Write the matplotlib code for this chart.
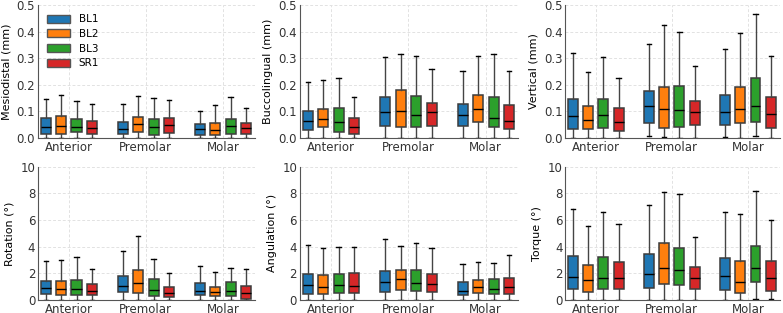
import numpy as np
import matplotlib.pyplot as plt
from matplotlib.patches import Patch

groups = ['Anterior', 'Premolar', 'Molar']
series = ['BL1', 'BL2', 'BL3', 'SR1']
colors = ['#1f77b4', '#ff7f0e', '#2ca02c', '#d62728']

# each entry: [whislo, q1, median, q3, whishi] per group, per series
mesiodistal = {
    'BL1': [[0, 0.014, 0.040, 0.077, 0.146], [0, 0.014, 0.034, 0.060, 0.128], [0, 0.013, 0.033, 0.054, 0.103]],
    'BL2': [[0, 0.016, 0.044, 0.083, 0.163], [0, 0.023, 0.054, 0.079, 0.157], [0, 0.013, 0.029, 0.058, 0.123]],
    'BL3': [[0, 0.023, 0.040, 0.070, 0.141], [0, 0.011, 0.040, 0.070, 0.151], [0, 0.016, 0.044, 0.073, 0.153]],
    'SR1': [[0, 0.016, 0.036, 0.063, 0.129], [0, 0.019, 0.048, 0.075, 0.144], [0, 0.014, 0.039, 0.058, 0.113]],
}
buccolingual = {
    'BL1': [[0, 0.031, 0.065, 0.102, 0.210], [0, 0.045, 0.098, 0.156, 0.303], [0, 0.045, 0.088, 0.129, 0.251]],
    'BL2': [[0, 0.040, 0.073, 0.111, 0.220], [0, 0.040, 0.100, 0.182, 0.314], [0, 0.059, 0.108, 0.160, 0.307]],
    'BL3': [[0, 0.024, 0.059, 0.113, 0.227], [0, 0.043, 0.087, 0.158, 0.308], [0, 0.040, 0.077, 0.153, 0.314]],
    'SR1': [[0, 0.016, 0.040, 0.074, 0.155], [0, 0.046, 0.097, 0.133, 0.258], [0, 0.035, 0.063, 0.124, 0.253]],
}
vertical = {
    'BL1': [[0, 0.035, 0.082, 0.147, 0.320], [0.008, 0.057, 0.119, 0.177, 0.353], [0.005, 0.049, 0.099, 0.162, 0.333]],
    'BL2': [[0, 0.033, 0.067, 0.119, 0.250], [0.003, 0.038, 0.108, 0.192, 0.423], [0, 0.058, 0.108, 0.192, 0.396]],
    'BL3': [[0, 0.039, 0.088, 0.147, 0.304], [0, 0.040, 0.106, 0.196, 0.398], [0.009, 0.062, 0.122, 0.225, 0.466]],
    'SR1': [[0, 0.026, 0.062, 0.113, 0.224], [0, 0.049, 0.098, 0.139, 0.271], [0, 0.038, 0.089, 0.155, 0.307]],
}
rotation = {
    'BL1': [[0, 0.43, 0.88, 1.43, 2.94], [0, 0.58, 1.03, 1.83, 3.64], [0, 0.35, 0.65, 1.23, 2.56]],
    'BL2': [[0, 0.33, 0.78, 1.38, 2.99], [0, 0.53, 1.26, 2.24, 4.80], [0, 0.28, 0.58, 0.98, 2.09]],
    'BL3': [[0, 0.33, 0.83, 1.51, 3.24], [0, 0.28, 0.75, 1.58, 3.04], [0, 0.28, 0.65, 1.31, 2.39]],
    'SR1': [[0, 0.35, 0.68, 1.18, 2.34], [0, 0.18, 0.53, 0.95, 2.01], [0, 0.10, 0.50, 1.01, 2.29]],
}
angulation = {
    'BL1': [[0, 0.43, 1.08, 1.98, 4.15], [0, 0.58, 1.33, 2.19, 4.60], [0, 0.35, 0.68, 1.33, 2.69]],
    'BL2': [[0, 0.43, 0.95, 1.86, 3.89], [0, 0.73, 1.58, 2.21, 4.02], [0, 0.48, 0.95, 1.46, 2.81]],
    'BL3': [[0, 0.53, 1.13, 1.96, 4.00], [0, 0.65, 1.26, 2.26, 4.25], [0, 0.43, 0.80, 1.58, 2.79]],
    'SR1': [[0, 0.48, 1.06, 2.04, 4.00], [0, 0.58, 1.16, 1.98, 3.92], [0, 0.43, 0.95, 1.61, 3.34]],
}
torque = {
    'BL1': [[0, 0.78, 1.71, 3.27, 6.83], [0, 0.90, 1.91, 3.47, 7.16], [0, 0.75, 1.76, 3.14, 6.58]],
    'BL2': [[0, 0.60, 1.53, 2.59, 5.53], [0, 1.16, 2.36, 4.25, 8.14], [0, 0.55, 1.33, 2.89, 6.46]],
    'BL3': [[0, 0.78, 1.66, 3.19, 6.63], [0, 1.13, 2.24, 3.87, 7.94], [0.08, 1.31, 2.36, 4.05, 8.17]],
    'SR1': [[0, 0.78, 1.61, 2.84, 5.73], [0, 0.78, 1.68, 2.46, 4.75], [0.10, 0.70, 1.61, 2.89, 6.03]],
}

panels = [
    (mesiodistal, 'Mesiodistal (mm)', 0.5, [0.0, 0.1, 0.2, 0.3, 0.4, 0.5]),
    (buccolingual, 'Buccolingual (mm)', 0.5, [0.0, 0.1, 0.2, 0.3, 0.4, 0.5]),
    (vertical, 'Vertical (mm)', 0.5, [0.0, 0.1, 0.2, 0.3, 0.4, 0.5]),
    (rotation, 'Rotation (°)', 10, [0, 2, 4, 6, 8, 10]),
    (angulation, 'Angulation (°)', 10, [0, 2, 4, 6, 8, 10]),
    (torque, 'Torque (°)', 10, [0, 2, 4, 6, 8, 10]),
]

fig = plt.figure(figsize=(7.83, 3.13), dpi=100)
lefts = [0.0485, 0.383, 0.722]
widths = [0.2775, 0.279, 0.274]
bottoms = [0.559, 0.042]
height = 0.425

offsets = [-0.3, -0.1, 0.1, 0.3]
for k, (data, ylabel, ymax, yticks) in enumerate(panels):
    r, c = divmod(k, 3)
    ax = fig.add_axes([lefts[c], bottoms[r], widths[c], height])
    ax.set_axisbelow(True)
    ax.grid(True, linestyle=(0, (3, 2)), color='#e2e2e2', linewidth=0.7)
    for s, name in enumerate(series):
        stats = []
        for g in range(len(groups)):
            lo, q1, med, q3, hi = data[name][g]
            stats.append(dict(whislo=lo, q1=q1, med=med, q3=q3, whishi=hi, fliers=[]))
        pos = np.arange(len(groups)) + offsets[s]
        ax.bxp(stats, positions=pos, widths=0.13, capwidths=0.055, patch_artist=True,
               showfliers=False, manage_ticks=False,
               boxprops=dict(facecolor=colors[s], edgecolor='#3c3c3c', linewidth=1.1),
               medianprops=dict(color='black', linewidth=1.0),
               whiskerprops=dict(color='#444444', linewidth=1.0),
               capprops=dict(color='black', linewidth=1.0))
    ax.set_xlim(-0.4, 2.42)
    ax.set_ylim(0, ymax)
    ax.set_yticks(yticks)
    ax.set_xticks(range(len(groups)))
    ax.set_xticklabels(groups)
    ax.set_ylabel(ylabel, fontsize=8)
    ax.tick_params(length=0, labelsize=8.5, pad=2, colors='#333333')
    for sp in ['top', 'right']:
        ax.spines[sp].set_visible(False)
    for sp in ['left', 'bottom']:
        ax.spines[sp].set_color('#555555')
    if k == 0:
        handles = [Patch(facecolor=colors[i], edgecolor='#555555', label=series[i]) for i in range(4)]
        ax.legend(handles=handles, loc='upper left', frameon=False, fontsize=7.5,
                  handlelength=2.2, handleheight=0.8, labelspacing=0.45, borderaxespad=0.5)

plt.savefig('out.png', dpi=100)
